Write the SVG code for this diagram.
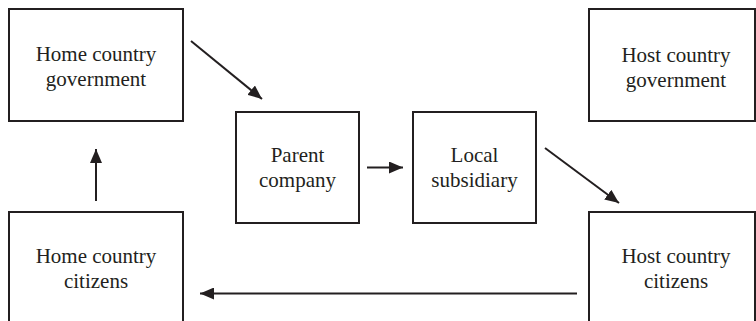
<svg xmlns="http://www.w3.org/2000/svg" width="756" height="321" viewBox="0 0 756 321">
  <style>
    .box { fill: #ffffff; stroke: #231f20; stroke-width: 2; }
    .lbl { font-family: "Liberation Serif", "DejaVu Serif", serif; font-size: 21px; fill: #231f20; text-anchor: middle; }
    .edge { stroke: #231f20; stroke-width: 2; fill: none; marker-end: url(#head); }
  </style>
  <defs>
    <marker id="head" viewBox="0 0 14 12" refX="14" refY="6" markerWidth="14" markerHeight="12" markerUnits="userSpaceOnUse" orient="auto">
      <path d="M0,0 L14,6 L0,12 Z" fill="#231f20"/>
    </marker>
  </defs>
  <rect width="756" height="321" fill="#ffffff"/>

  <g id="home-government">
    <rect class="box" x="9" y="9" width="174" height="112"/>
    <text class="lbl" x="96" y="61">Home country</text>
    <text class="lbl" x="96" y="86">government</text>
  </g>
  <g id="host-government">
    <rect class="box" x="589" y="9" width="166" height="112"/>
    <text class="lbl" x="676" y="62">Host country</text>
    <text class="lbl" x="676" y="87">government</text>
  </g>
  <g id="parent-company">
    <rect class="box" x="236" y="112" width="123" height="111"/>
    <text class="lbl" x="297.5" y="162">Parent</text>
    <text class="lbl" x="297.5" y="187">company</text>
  </g>
  <g id="local-subsidiary">
    <rect class="box" x="413" y="112" width="123" height="111"/>
    <text class="lbl" x="474.5" y="162">Local</text>
    <text class="lbl" x="474.5" y="187">subsidiary</text>
  </g>
  <g id="home-citizens">
    <rect class="box" x="9" y="212" width="174" height="120"/>
    <text class="lbl" x="96" y="263">Home country</text>
    <text class="lbl" x="96" y="288">citizens</text>
  </g>
  <g id="host-citizens">
    <rect class="box" x="589" y="212" width="166" height="120"/>
    <text class="lbl" x="676" y="263">Host country</text>
    <text class="lbl" x="676" y="288">citizens</text>
  </g>

  <g id="connectors">
    <line class="edge" x1="191" y1="41" x2="262" y2="99"/>
    <line class="edge" x1="96" y1="201" x2="96" y2="149"/>
    <line class="edge" x1="367" y1="167.5" x2="403" y2="167.5"/>
    <line class="edge" x1="545" y1="148" x2="619" y2="203"/>
    <line class="edge" x1="577" y1="293.5" x2="200" y2="293.5"/>
  </g>
</svg>
